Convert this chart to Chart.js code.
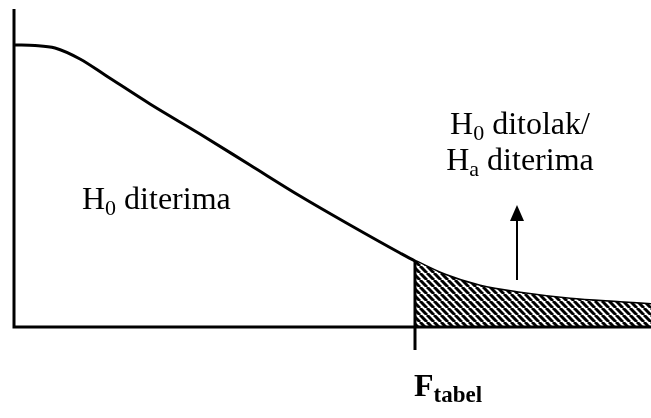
<!DOCTYPE html>
<html>
<head>
<meta charset="utf-8">
<script src="https://cdn.jsdelivr.net/npm/chart.js@4/dist/chart.umd.min.js"></script>
<style>
  body { margin: 0; background: #fff; }
  #wrap { width: 651px; height: 418px; position: relative; }
</style>
</head>
<body>
<div id="wrap"><canvas id="fChart"></canvas></div>
<script>
// F distribution curve (x = F value, y = density, arbitrary units)
const curveX = [1, 21, 41, 66, 91, 136, 186, 236, 286, 336, 386, 401, 431, 466, 506, 556, 606, 637];
const curveY = [282, 281.5, 279, 268, 252, 223, 193, 162, 131, 102, 74, 66, 52, 41, 34, 28, 24.5, 22.5];
const fTabel = 401;   // critical value
const xMax = 637;
const yMax = 317;

const curvePoints = curveX.map((x, i) => ({ x: x, y: curveY[i] }));
const rejectPoints = curvePoints.filter(p => p.x >= fTabel);

// diagonal hatching for the rejection region
function hatch() {
    const s = 7;
    const c = document.createElement('canvas');
    c.width = s; c.height = s;
    const g = c.getContext('2d');
    g.fillStyle = '#fff';
    g.fillRect(0, 0, s, s);
    g.strokeStyle = '#000';
    g.lineWidth = 3;
    g.beginPath();
    for (const k of [-s, 0, s]) {
        g.moveTo(k, 0);
        g.lineTo(k + s, s);
    }
    g.stroke();
    return g.createPattern(c, 'repeat');
}

function subText(ctx, x, y, main, sub, rest, size, subSize, bold, align) {
    const w = bold ? 'bold ' : '';
    const mainFont = w + size + 'px "Liberation Serif"';
    const subFont = w + subSize + 'px "Liberation Serif"';
    ctx.font = mainFont;
    const w1 = ctx.measureText(main).width;
    const w3 = ctx.measureText(rest).width;
    ctx.font = subFont;
    const w2 = ctx.measureText(sub).width;
    let left = x;
    if (align === 'center') left = x - (w1 + w2 + w3) / 2;
    ctx.textAlign = 'left';
    ctx.textBaseline = 'alphabetic';
    ctx.fillStyle = '#000';
    ctx.font = mainFont;
    ctx.fillText(main, left, y);
    ctx.font = subFont;
    ctx.fillText(sub, left + w1, y + Math.round(size * 0.2));
    ctx.font = mainFont;
    ctx.fillText(rest, left + w1 + w2, y);
}

const decorations = {
    id: 'decorations',
    afterDraw(chart) {
        const ctx = chart.ctx;
        const a = chart.chartArea;
        const xs = chart.scales.x, ys = chart.scales.y;
        const fx = xs.getPixelForValue(fTabel);
        const fy = ys.getPixelForValue(rejectPoints[0].y);
        ctx.save();
        ctx.strokeStyle = '#000';
        ctx.lineCap = 'butt';
        // axes
        ctx.lineWidth = 3;
        ctx.beginPath();
        ctx.moveTo(a.left, a.top - 1);
        ctx.lineTo(a.left, a.bottom + 1.5);
        ctx.moveTo(a.left - 1.5, a.bottom);
        ctx.lineTo(a.right, a.bottom);
        ctx.stroke();
        // edge of rejection region and tick
        ctx.beginPath();
        ctx.moveTo(fx, fy);
        ctx.lineTo(fx, a.bottom + 23);
        ctx.stroke();
        // arrow
        const ax = xs.getPixelForValue(503);
        ctx.lineWidth = 2;
        ctx.beginPath();
        ctx.moveTo(ax, a.bottom - 47);
        ctx.lineTo(ax, a.bottom - 110);
        ctx.stroke();
        ctx.fillStyle = '#000';
        ctx.beginPath();
        ctx.moveTo(ax, a.bottom - 122);
        ctx.lineTo(ax - 7, a.bottom - 106);
        ctx.lineTo(ax + 7, a.bottom - 106);
        ctx.closePath();
        ctx.fill();
        // labels
        subText(ctx, 82, 209, 'H', '0', ' diterima', 32, 22, false, 'left');
        subText(ctx, 520, 134, 'H', '0', ' ditolak/', 32, 22, false, 'center');
        subText(ctx, 520, 170, 'H', 'a', ' diterima', 32, 22, false, 'center');
        subText(ctx, fx - 1, 396, 'F', 'tabel', '', 32, 23, true, 'left');
        ctx.restore();
    }
};

new Chart(document.getElementById('fChart'), {
    type: 'line',
    data: {
        datasets: [
            {
                label: 'Daerah penolakan',
                data: rejectPoints,
                borderWidth: 0,
                borderColor: 'rgba(0,0,0,0)',
                backgroundColor: hatch(),
                fill: 'origin',
                pointRadius: 0,
                cubicInterpolationMode: 'monotone'
            },
            {
                label: 'Distribusi F',
                data: curvePoints,
                borderColor: '#000',
                borderWidth: 3,
                fill: false,
                pointRadius: 0,
                cubicInterpolationMode: 'monotone'
            }
        ]
    },
    options: {
        responsive: true,
        maintainAspectRatio: false,
        animation: false,
        layout: { padding: { left: 14, top: 10, right: 0, bottom: 91 } },
        plugins: {
            legend: { display: false },
            tooltip: { enabled: false }
        },
        scales: {
            x: { type: 'linear', min: 0, max: xMax, display: false },
            y: { type: 'linear', min: 0, max: yMax, display: false }
        }
    },
    plugins: [decorations]
});
</script>
</body>
</html>
